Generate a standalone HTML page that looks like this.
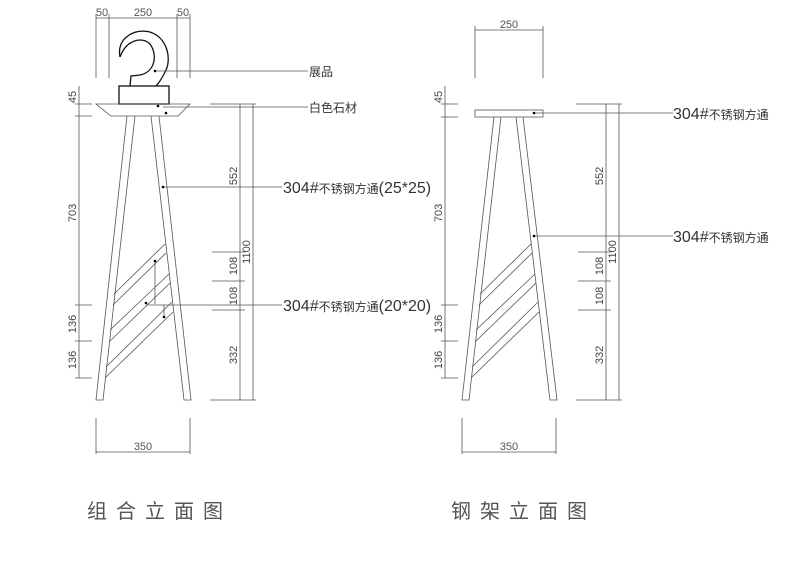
<!DOCTYPE html>
<html><head><meta charset="utf-8"><style>
html,body{margin:0;padding:0;background:#fff}
svg{display:block}
text{font-family:"Liberation Sans","Noto Sans CJK SC",sans-serif;fill:#444}
.d{font-size:11px;fill:#555}
.l{font-size:14px;fill:#333}
</style></head><body>
<svg width="800" height="565" viewBox="0 0 800 565" xmlns="http://www.w3.org/2000/svg">
<g stroke="#555" stroke-width="0.8" fill="none">
<line x1="96" y1="18" x2="190" y2="18"/>
<line x1="96" y1="14" x2="96" y2="78"/><line x1="109" y1="14" x2="109" y2="78"/>
<line x1="177" y1="14" x2="177" y2="78"/><line x1="190" y1="14" x2="190" y2="78"/>
<path d="M120,57 C116,38 135,28 150,32 C168,38 172,60 165,72 C162,78 159,83 156,86" stroke="#111" stroke-width="1.3"/>
<path d="M130,86 L131,76 L140,75 C155,72 158,55 150,44 C142,36 126,40 120,57" stroke="#111" stroke-width="1.3"/>
<rect x="119" y="86" width="50" height="18" stroke="#111" stroke-width="1.3"/>
<path d="M96,104 L190,104 L178,116 L111,116 Z"/>
<path d="M127,116 L96,400 L103,400 L135,116"/>
<path d="M151,116 L184,400 L191,400 L159,116"/>
<line x1="114" y1="294" x2="165" y2="244"/><line x1="113" y1="305" x2="166" y2="253"/>
<line x1="110" y1="330" x2="169" y2="274"/><line x1="109" y1="342" x2="170" y2="283"/>
<line x1="106" y1="367" x2="172" y2="302"/><line x1="105" y1="378" x2="173" y2="312"/>
<line x1="155" y1="261" x2="155" y2="304"/><line x1="164" y1="305" x2="164" y2="318"/>
<line x1="79" y1="86" x2="79" y2="378"/>
<line x1="75" y1="104" x2="92" y2="104"/><line x1="75" y1="116" x2="92" y2="116"/>
<line x1="75" y1="305" x2="92" y2="305"/><line x1="75" y1="341" x2="92" y2="341"/><line x1="75" y1="378" x2="92" y2="378"/>
<line x1="240" y1="104" x2="240" y2="400"/><line x1="253" y1="104" x2="253" y2="400"/>
<line x1="210" y1="104" x2="256" y2="104"/>
<line x1="212" y1="252" x2="245" y2="252"/><line x1="212" y1="281" x2="245" y2="281"/>
<line x1="212" y1="310" x2="245" y2="310"/>
<line x1="210" y1="400" x2="256" y2="400"/>
<line x1="96" y1="418" x2="96" y2="454"/><line x1="190" y1="418" x2="190" y2="454"/>
<line x1="96" y1="452" x2="190" y2="452"/>
<line x1="155" y1="71" x2="308" y2="71"/>
<line x1="163" y1="107" x2="308" y2="107"/>
<line x1="163" y1="187" x2="282" y2="187"/>
<line x1="146" y1="305" x2="282" y2="305"/>

<line x1="475" y1="30" x2="543" y2="30"/>
<line x1="475" y1="26" x2="475" y2="78"/><line x1="543" y1="26" x2="543" y2="78"/>
<rect x="475" y="110" width="68" height="7"/>
<path d="M494,117 L462,400 L469,400 L501,117"/>
<path d="M516,117 L550,400 L557,400 L523,117"/>
<line x1="480" y1="294" x2="531" y2="244"/><line x1="479" y1="305" x2="532" y2="253"/>
<line x1="476" y1="330" x2="535" y2="274"/><line x1="475" y1="342" x2="536" y2="283"/>
<line x1="472" y1="367" x2="538" y2="302"/><line x1="471" y1="378" x2="539" y2="312"/>
<line x1="445" y1="86" x2="445" y2="378"/>
<line x1="441" y1="104" x2="458" y2="104"/><line x1="441" y1="117" x2="458" y2="117"/>
<line x1="441" y1="305" x2="458" y2="305"/><line x1="441" y1="341" x2="458" y2="341"/><line x1="441" y1="378" x2="458" y2="378"/>
<line x1="606" y1="104" x2="606" y2="400"/><line x1="619" y1="104" x2="619" y2="400"/>
<line x1="576" y1="104" x2="622" y2="104"/>
<line x1="578" y1="252" x2="611" y2="252"/><line x1="578" y1="281" x2="611" y2="281"/>
<line x1="578" y1="310" x2="611" y2="310"/>
<line x1="576" y1="400" x2="622" y2="400"/>
<line x1="462" y1="418" x2="462" y2="454"/><line x1="556" y1="418" x2="556" y2="454"/>
<line x1="462" y1="452" x2="556" y2="452"/>
<line x1="534" y1="113" x2="673" y2="113"/>
<line x1="534" y1="236" x2="673" y2="236"/>
</g>
<g fill="#000">
<circle cx="155" cy="71" r="1.3"/><circle cx="158" cy="106" r="1.3"/><circle cx="166" cy="113" r="1.3"/>
<circle cx="163" cy="187" r="1.3"/><circle cx="155" cy="261" r="1.3"/><circle cx="146" cy="303" r="1.3"/><circle cx="164" cy="317" r="1.3"/>
<circle cx="534" cy="113" r="1.3"/><circle cx="534" cy="236" r="1.3"/>
</g>
<text class="d" x="102" y="16" text-anchor="middle">50</text>
<text class="d" x="143" y="16" text-anchor="middle">250</text>
<text class="d" x="183" y="16" text-anchor="middle">50</text>
<text class="d" x="509" y="28" text-anchor="middle">250</text>
<text class="d" x="143" y="450" text-anchor="middle">350</text>
<text class="d" x="509" y="450" text-anchor="middle">350</text>
<g class="d" text-anchor="middle">
<text transform="translate(76,97) rotate(-90)">45</text>
<text transform="translate(76,213) rotate(-90)">703</text>
<text transform="translate(76,324) rotate(-90)">136</text>
<text transform="translate(76,360) rotate(-90)">136</text>
<text transform="translate(237,176) rotate(-90)">552</text>
<text transform="translate(237,266) rotate(-90)">108</text>
<text transform="translate(237,296) rotate(-90)">108</text>
<text transform="translate(237,355) rotate(-90)">332</text>
<text transform="translate(250,252) rotate(-90)">1100</text>
<text transform="translate(442,97) rotate(-90)">45</text>
<text transform="translate(442,213) rotate(-90)">703</text>
<text transform="translate(442,324) rotate(-90)">136</text>
<text transform="translate(442,360) rotate(-90)">136</text>
<text transform="translate(603,176) rotate(-90)">552</text>
<text transform="translate(603,266) rotate(-90)">108</text>
<text transform="translate(603,296) rotate(-90)">108</text>
<text transform="translate(603,355) rotate(-90)">332</text>
<text transform="translate(616,252) rotate(-90)">1100</text>
</g>
<text class="l" x="309" y="76" style="font-size:12px">展品</text>
<text class="l" x="309" y="112" style="font-size:12px">白色石材</text>
<text class="l" x="283" y="193"><tspan style="font-size:16px">304#</tspan><tspan style="font-size:12px">不锈钢方通</tspan><tspan style="font-size:16px">(25*25)</tspan></text>
<text class="l" x="283" y="311"><tspan style="font-size:16px">304#</tspan><tspan style="font-size:12px">不锈钢方通</tspan><tspan style="font-size:16px">(20*20)</tspan></text>
<text class="l" x="673" y="119"><tspan style="font-size:16px">304#</tspan><tspan style="font-size:12px">不锈钢方通</tspan></text>
<text class="l" x="673" y="242"><tspan style="font-size:16px">304#</tspan><tspan style="font-size:12px">不锈钢方通</tspan></text>
<text x="87" y="518" style="font-size:20px;fill:#555;letter-spacing:9px">组合立面图</text>
<text x="451" y="518" style="font-size:20px;fill:#555;letter-spacing:9px">钢架立面图</text>
</svg>
</body></html>
